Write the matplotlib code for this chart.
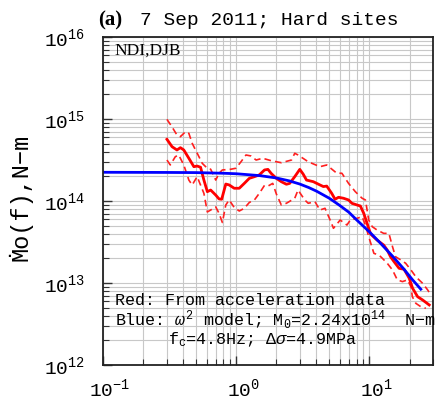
import matplotlib
matplotlib.use("Agg")
import matplotlib.pyplot as plt
from matplotlib.ticker import LogLocator, NullFormatter
from matplotlib.transforms import ScaledTranslation

plt.rcParams['font.family'] = ['Liberation Mono', 'DejaVu Sans Mono']
plt.rcParams['mathtext.fontset'] = 'custom'
plt.rcParams['mathtext.rm'] = 'Liberation Mono'
plt.rcParams['mathtext.it'] = 'Liberation Mono:italic'
plt.rcParams['mathtext.bf'] = 'Liberation Mono:bold'

# red: moment-rate spectrum from acceleration data (mean)
freq_red = [0.302, 0.330, 0.359, 0.381, 0.404, 0.441, 0.481, 0.509, 0.540, 0.572,
            0.607, 0.643, 0.702, 0.743, 0.778, 0.835, 0.885, 0.966, 1.054, 1.15,
            1.254, 1.37, 1.49, 1.63, 1.73, 1.83, 2.0, 2.18, 2.38, 2.52,
            2.75, 3.0, 3.18, 3.37, 3.79, 4.25, 4.51, 4.78, 5.21, 5.52,
            5.86, 6.39, 6.97, 7.39, 8.07, 8.55, 9.06, 9.60, 10.2, 11.4,
            12.8, 13.6, 14.4, 15.3, 16.7, 18.2, 19.9, 21.1, 23.0, 25.1, 28.1]
red_mean = [5.65e14, 4.59e14, 4.19e14, 4.47e14, 4.19e14, 3.32e14, 2.62e14, 2.67e14, 2.58e14, 1.80e14,
            1.30e14, 1.36e14, 1.18e14, 1.06e14, 1.05e14, 1.61e14, 1.57e14, 1.43e14, 1.43e14, 1.64e14,
            1.89e14, 1.98e14, 2.08e14, 2.39e14, 2.43e14, 2.17e14, 1.89e14, 1.72e14, 1.60e14, 1.64e14,
            1.98e14, 2.43e14, 2.13e14, 1.80e14, 1.72e14, 1.57e14, 1.50e14, 1.52e14, 1.24e14, 1.05e14,
            1.11e14, 1.08e14, 1.03e14, 9.37e13, 8.94e13, 8.69e13, 7.08e13, 5.35e13, 3.96e13, 3.34e13,
            2.90e13, 2.52e13, 2.09e13, 1.82e13, 1.51e13, 1.47e13, 1.14e13, 8.6e12, 6.8e12, 6.2e12, 5.4e12]

# red dashed: upper bound
freq_up = [0.302, 0.329, 0.359, 0.381, 0.416, 0.441, 0.467, 0.495, 0.525, 0.556,
           0.606, 0.643, 0.702, 0.743, 0.787, 0.912, 0.995, 1.086, 1.184, 1.292,
           1.41, 1.58, 1.83, 2.18, 2.60, 2.75, 2.91, 3.47, 4.25, 4.78,
           5.69, 6.21, 6.97, 7.83, 8.81, 9.33, 9.88, 10.5, 11.4, 12.8,
           14.0, 14.9, 15.7, 17.2, 18.7, 20.5, 22.3, 25.1, 27.4, 29.0]
red_upper = [9.9e14, 8.05e14, 6.38e14, 6.08e14, 7.0e14, 6.69e14, 5.06e14, 4.19e14, 3.47e14, 2.88e14,
             2.51e14, 2.44e14, 1.80e14, 2.18e14, 2.39e14, 2.44e14, 2.51e14, 3.01e14, 3.64e14, 3.54e14,
             3.16e14, 3.32e14, 3.10e14, 2.93e14, 3.16e14, 3.82e14, 3.64e14, 3.01e14, 2.62e14, 2.75e14,
             2.18e14, 2.18e14, 1.64e14, 1.30e14, 1.08e14, 1.03e14, 5.86e13, 4.86e13, 4.43e13, 4.03e13,
             4.03e13, 2.77e13, 2.09e13, 1.91e13, 1.74e13, 1.44e13, 1.19e13, 9.9e12, 8.2e12, 7.1e12]

# red dashed: lower bound
freq_lo = [0.302, 0.320, 0.349, 0.370, 0.404, 0.441, 0.467, 0.509, 0.572, 0.607,
           0.643, 0.702, 0.743, 0.787, 0.835, 0.885, 0.966, 1.054, 1.15, 1.254,
           1.37, 1.49, 1.63, 1.73, 1.88, 2.0, 2.18, 2.38, 2.75, 2.91,
           3.27, 3.47, 3.90, 4.25, 4.64, 5.07, 5.37, 6.03, 6.78, 7.18,
           8.07, 8.81, 9.33, 9.88, 10.8, 11.8, 12.5, 13.6, 14.9, 16.2,
           17.7, 19.3, 20.5, 21.0, 22.3, 24.3, 26.5]
red_lower = [3.16e14, 2.75e14, 3.47e14, 3.64e14, 2.75e14, 1.80e14, 1.57e14, 1.98e14, 1.24e14, 7.35e13,
             7.76e13, 8.46e13, 7.08e13, 5.47e13, 8.94e13, 1.03e14, 8.34e13, 7.55e13, 8.15e13, 9.6e13,
             1.03e14, 1.24e14, 1.55e14, 1.52e14, 1.64e14, 1.22e14, 8.94e13, 9.38e13, 1.08e14, 1.36e14,
             1.03e14, 9.38e13, 9.8e13, 7.76e13, 8.15e13, 5.86e13, 4.65e13, 5.86e13, 5.09e13, 5.86e13,
             6.15e13, 6.44e13, 5.09e13, 3.67e13, 2.30e13, 2.19e13, 2.0e13, 1.74e13, 1.44e13, 1.09e13,
             1.04e13, 1.09e13, 9.0e12, 6.8e12, 5.65e12, 5.14e12, 4.91e12]

# blue: omega-squared model curve
freq_blue = [0.1, 0.3, 0.5, 0.8, 1.0, 1.5, 2.0, 2.5, 3.0, 3.5, 4.0, 5.0, 6.0, 7.0, 8.0,
             10.0, 12.0, 15.0, 18.0, 21.0, 24.3]
blue_model = [2.24e14, 2.23e14, 2.22e14, 2.18e14, 2.15e14, 2.04e14, 1.91e14, 1.76e14, 1.61e14,
              1.46e14, 1.32e14, 1.08e14, 8.8e13, 7.3e13, 5.9e13, 4.2e13, 3.1e13, 2.1e13,
              1.5e13, 1.1e13, 8.4e12]

W, H = 448, 401
fig = plt.figure(figsize=(W / 100, H / 100), dpi=100)
ax = fig.add_axes([103 / W, 1 - 365 / H, 330 / W, 328 / H])

ax.plot(freq_up, red_upper, color='#ff2020', lw=1.2, ls=(0, (4, 2.5)))
ax.plot(freq_lo, red_lower, color='#ff2020', lw=1.2, ls=(0, (4, 2.5)))
ax.plot(freq_red, red_mean, color='#ff0000', lw=2.0)
ax.plot(freq_blue, blue_model, color='#0000ff', lw=2.0)

ax.set_xscale('log')
ax.set_yscale('log')
ax.set_xlim(0.1, 30)
ax.set_ylim(1e12, 1e16)

ax.xaxis.set_minor_locator(LogLocator(base=10, subs=range(2, 10)))
ax.yaxis.set_minor_locator(LogLocator(base=10, subs=range(2, 10)))
ax.xaxis.set_minor_formatter(NullFormatter())
ax.yaxis.set_minor_formatter(NullFormatter())
ax.grid(True, which='both', color='#c8c8c8', lw=0.8)
ax.set_axisbelow(True)

ax.tick_params(which='both', direction='in', top=False, right=False, labelsize=14, color='#333333')
ax.tick_params(which='major', length=6.5, width=1.0)
ax.tick_params(which='minor', length=4, width=0.8)
ax.tick_params(axis='y', pad=13)
ax.tick_params(axis='x', pad=9)
for s in ax.spines.values():
    s.set_linewidth(1.3)
    s.set_color('#222222')

# centre the "10" of each x label on its tick, like the original
shift = ScaledTranslation(7 / 100, 0, fig.dpi_scale_trans)
for lab in ax.get_xticklabels():
    lab.set_transform(lab.get_transform() + shift)

fig.text(20 / W, 1 - 197 / H, 'Ṁo(f),N−m', rotation=90, ha='center', va='center',
         fontsize=17, family=['Liberation Mono', 'DejaVu Sans Mono'])

fig.text(98 / W, 1 - 25 / H, '(a)', fontsize=15, fontweight='bold',
         family='Liberation Serif', va='baseline')
fig.text(140 / W, 1 - 25 / H, '7 Sep 2011; Hard sites', fontsize=14, va='baseline')

ax.text(0.036, 0.957, 'NDI,DJB', transform=ax.transAxes, fontsize=12.5,
        family='Liberation Serif', va='center', ha='left')
ax.text(0.036, 0.184, 'Red: From acceleration data', transform=ax.transAxes,
        fontsize=12, va='baseline', ha='left')
ax.text(0.036, 0.122, r'Blue: $\omega^2$ model; M$_0$=2.24x10$^{14}$  N−m', transform=ax.transAxes,
        fontsize=12, va='baseline', ha='left')
ax.text(0.197, 0.064, r'f$_\mathrm{c}$=4.8Hz; $\Delta\sigma$=4.9MPa', transform=ax.transAxes,
        fontsize=12, va='baseline', ha='left')

fig.savefig('out.png', dpi=100)
